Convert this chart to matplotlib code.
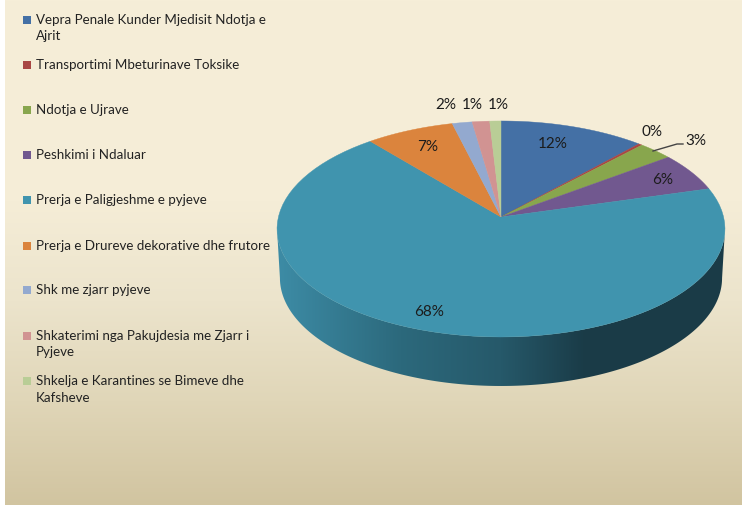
import numpy as np
import matplotlib
matplotlib.use('Agg')
import matplotlib.pyplot as plt
from matplotlib.patches import Rectangle, Polygon

plt.rcParams['font.family'] = ['Lato', 'DejaVu Sans']

names = ['Vepra Penale Kunder Mjedisit Ndotja e\nAjrit',
         'Transportimi Mbeturinave Toksike',
         'Ndotja e Ujrave',
         'Peshkimi i Ndaluar',
         'Prerja e Paligjeshme e pyjeve',
         'Prerja e Drureve dekorative dhe frutore',
         'Shk me zjarr pyjeve',
         'Shkaterimi nga Pakujdesia me Zjarr i\nPyjeve',
         'Shkelja e Karantines se Bimeve dhe\nKafsheve']
values = [11.7, 0.3, 2.8, 5.8, 68.4, 7.1, 1.6, 1.4, 0.9]
colors = ['#4470a5', '#a94744', '#88a64d', '#71588f', '#4094ae',
          '#db843d', '#93a9cf', '#d19392', '#b9cd96']
pct_labels = ['12%', '0%', '3%', '6%', '68%', '7%', '2%', '1%', '1%']

# legend row y and label centres, in pixels of the picture
legend_y = [20, 65, 110, 155, 200, 246, 290, 336, 381]
label_pos = [(553, 144), (652, 132), (696, 141), (663, 180), (429, 312),
             (428, 147), (446, 105), (472, 105), (498, 105)]

fig = plt.figure(figsize=(7.42, 5.05), dpi=100)
ax = fig.add_axes([0, 0, 1, 1])
ax.axis('off')

# background
stops_y = [0, 200, 300, 400, 505]
stops_c = np.array([[246, 238, 216], [245, 237, 215], [236, 228, 204],
                    [224, 214, 184], [209, 196, 160]]) / 255.
yy = np.arange(505)
bg = np.stack([np.interp(yy, stops_y, stops_c[:, k]) for k in range(3)], axis=1)[:, None, :]
ax.imshow(bg, extent=[5, 742, 505, 0], aspect='auto', zorder=0)


def project(theta, dx=0, dy=0, scale=1.0):
    # tilted circle, theta clockwise from top, apex at (501, 217)
    p = 0.111
    u, v = np.sin(theta), np.cos(theta)
    d = 1 + p * v
    return 501 + dx + scale * 222.6 * u / d, 217 + dy - 106.67 * v / d


# side of the pie, between the two widest points of the rim
th = np.linspace(np.radians(96.4), np.radians(263.6), 200)
x1, y1 = project(th)
x2, y2 = project(th[::-1], dy=49, scale=0.987)
side = Polygon(np.column_stack([np.r_[x1, x2], np.r_[y1, y2]]), closed=True,
               facecolor='none', edgecolor='none')
ax.add_patch(side)
gx = np.arange(270, 730)
gc = np.array([[61, 140, 166], [44, 105, 124], [38, 89, 106], [26, 59, 71], [26, 59, 71]]) / 255.
gs = [276, 400, 500, 585, 724]
grad = np.stack([np.interp(gx, gs, gc[:, k]) for k in range(3)], axis=1)[None, :, :]
im = ax.imshow(grad, extent=[270, 730, 400, 200], aspect='auto', zorder=1)
im.set_clip_path(side)

# top of the pie
ends = np.cumsum(values) / np.sum(values) * 2 * np.pi
starts = np.r_[0, ends[:-1]]
for a, b, c in zip(starts, ends, colors):
    t = np.linspace(a, b, 80)
    x, y = project(t)
    ax.fill(np.r_[501, x], np.r_[217, y], color=c, lw=0.3, zorder=2)

# percent labels
for (px, py), s in zip(label_pos, pct_labels):
    ax.text(px, py, s, fontsize=11, color='#1c1c1c', ha='center', va='center', zorder=4)
ax.plot([653, 677, 683], [151, 144, 144], color='#444444', lw=1, zorder=3)

# legend
for yl, name, c in zip(legend_y, names, colors):
    ax.add_patch(Rectangle((23, yl - 4), 8, 8, facecolor=c, edgecolor='none', zorder=3))
    ax.text(36, yl - 6, name, fontsize=9.6, color='#222222', ha='left', va='top',
            linespacing=1.45, zorder=4)

ax.set_xlim(0, 742)
ax.set_ylim(505, 0)
fig.savefig('out.png', dpi=100)
